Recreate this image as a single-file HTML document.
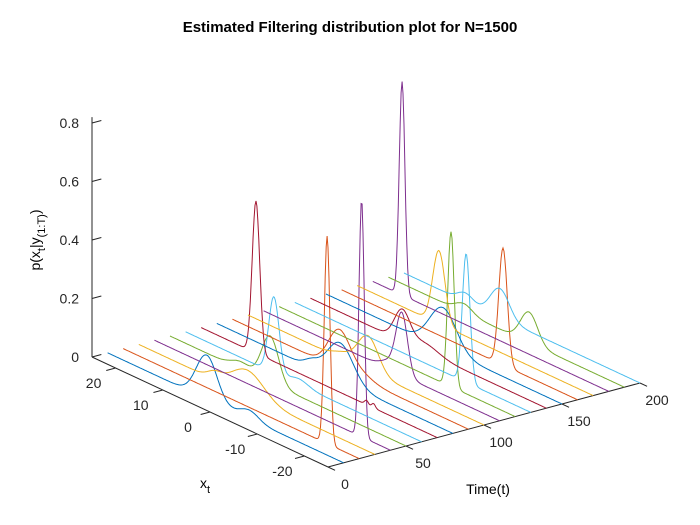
<!DOCTYPE html>
<html><head><meta charset="utf-8"><style>
body{margin:0;background:#fff}
svg{display:block;font-family:"Liberation Sans",sans-serif}
</style></head><body>
<svg id="chart" width="700" height="525" viewBox="0 0 700 525">
<rect width="700" height="525" fill="#fff"/>
<text x="350" y="32" text-anchor="middle" font-weight="bold" font-size="15">Estimated Filtering distribution plot for N=1500</text>
<g id="axes"></g>
<g id="series"></g>
<text x="488" y="494" text-anchor="middle" font-size="14">Time(t)</text>
<text x="200" y="488" font-size="14">x<tspan font-size="11" dy="5">t</tspan></text>
<text transform="translate(40,240) rotate(-90)" text-anchor="middle" font-size="14">p(x<tspan font-size="11" dy="5">t</tspan><tspan dy="-5">|y</tspan><tspan font-size="11" dy="5">(1:T)</tspan><tspan dy="-5">)</tspan></text>
</svg>
<script>
const times = [10,20,30,40,50,60,70,80,90,100,110,120,130,140,150,160,170,180,190,200];
const colors = ["#0072bd","#d95319","#edb120","#7e2f8e","#77ac30","#4dbeee","#a2142f"];
// gaussian components per time slice: [mean, sigma, amplitude]
const comps = [
 [[4,2.2,0.15],[-5,2,0.03]],
 [[-18.2,0.6,0.71]],
 [[2,3.5,0.085],[9,1.5,0.02]],
 [[-18.9,0.55,0.81]],
 [[3.8,1.8,0.16],[10,2,0.025]],
 [[6.3,1.1,0.26],[1,2,0.02]],
 [[13.4,0.8,0.52],[-10,0.4,0.015],[-11.5,0.4,0.015]],
 [[-1.1,2.8,0.13],[5,1.5,0.02]],
 [[2.5,2.2,0.12],[-1,3,0.03]],
 [[-0.4,2.2,0.12],[5,2,0.02]],
 [[-4.3,1.2,0.2],[-2,2,0.03]],
 [[-11.4,0.7,0.53]],
 [[-11.3,0.8,0.44]],
 [[5.6,1.6,0.1],[1,3,0.03]],
 [[0.2,2.8,0.14]],
 [[-9.2,0.9,0.4]],
 [[7.7,1.3,0.25]],
 [[18.8,0.6,0.73]],
 [[-4.8,1.8,0.105],[9,1.8,0.03]],
 [[4.7,2,0.1],[12,1.6,0.03]]
];
const zTicks=[0,0.2,0.4,0.6,0.8];
const xtTicks=[20,10,0,-10,-20];
const tTicks=[0,50,100,150,200];
function P(xt,t,z){return [328-4.72*(xt+25)+1.56*t, 467-2.2*(xt+25)-0.42*t-292.5*z];}
const NS="http://www.w3.org/2000/svg";
const ax=document.getElementById('axes'), sg=document.getElementById('series');
function ln(g,a,b,name){const l=document.createElementNS(NS,'line');l.setAttribute('x1',a[0]);l.setAttribute('y1',a[1]);l.setAttribute('x2',b[0]);l.setAttribute('y2',b[1]);l.setAttribute('stroke','#262626');l.setAttribute('stroke-width','1');


g.appendChild(l);}
function tx(x,y,s,anchor,name){const t=document.createElementNS(NS,'text');t.setAttribute('x',x);t.setAttribute('y',y);t.setAttribute('font-size','14');t.setAttribute('fill','#262626');t.setAttribute('text-anchor',anchor);t.textContent=s;


ax.appendChild(t);}
ln(ax,P(25,0,0),P(25,0,0.82),'z-axis-line');
ln(ax,P(25,0,0),P(-25,0,0),'xt-axis-line');
ln(ax,P(-25,0,0),P(-25,200,0),'time-axis-line');
zTicks.forEach(z=>{const a=P(25,0,z),b=P(25,6,z);ln(ax,a,b,'z-tick');tx(a[0]-13,a[1]+5,String(z),'end','z-tick-label');});
xtTicks.forEach(v=>{const a=P(v,0,0),b=P(v,-6,0);ln(ax,a,b,'xt-tick');tx(a[0]-22,a[1]+20,String(v),'middle','xt-tick-label');});
tTicks.forEach(v=>{const a=P(-25,v,0),b=P(-26.5,v,0);ln(ax,a,b,'time-tick');tx(a[0]+17,a[1]+22,String(v),'middle','time-tick-label');});
times.forEach((t,i)=>{
 let d='';
 for(let xt=25;xt>=-25.001;xt-=0.2){
  let z=0;comps[i].forEach(c=>{z+=c[2]*Math.exp(-0.5*Math.pow((xt-c[0])/c[1],2));});
  const p=P(xt,t,z);d+=(d?'L':'M')+p[0].toFixed(1)+' '+p[1].toFixed(1);
 }
 const path=document.createElementNS(NS,'path');path.setAttribute('d',d);path.setAttribute('fill','none');path.setAttribute('stroke',colors[i%7]);path.setAttribute('stroke-width','1');
 
 
 sg.appendChild(path);
});
</script>
</body></html>
